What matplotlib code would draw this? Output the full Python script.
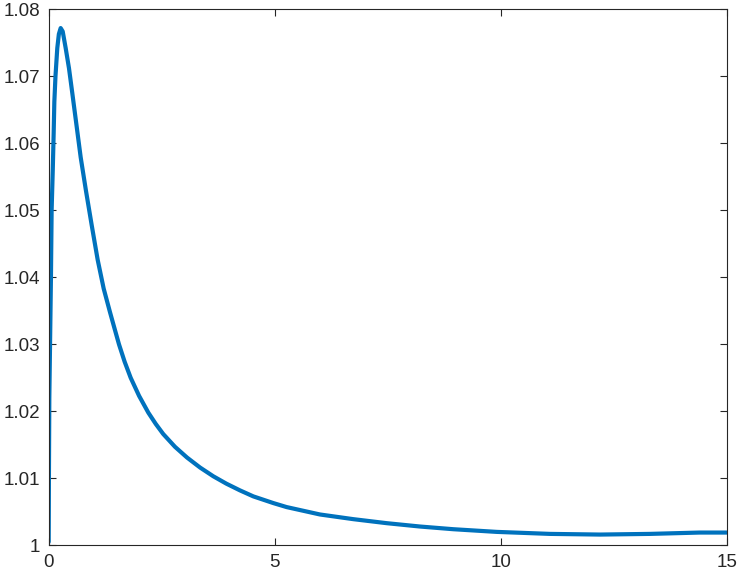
import matplotlib
matplotlib.use("Agg")
import matplotlib.pyplot as plt

plt.rcParams['font.family'] = ['Liberation Sans', 'DejaVu Sans']

x_vals = [0.0, 0.005, 0.014, 0.03, 0.05, 0.065, 0.09, 0.11, 0.125, 0.15, 0.19, 0.225, 0.265,
          0.31, 0.376, 0.449, 0.522, 0.619, 0.708, 0.825, 0.951, 1.084, 1.217, 1.356,
          1.455, 1.555, 1.68, 1.814, 2.0, 2.204, 2.37, 2.535, 2.794, 3.06, 3.35, 3.642,
          3.93, 4.23, 4.527, 4.97, 5.265, 6.0, 6.739, 7.478, 8.215,
          8.95, 9.91, 11.09, 12.2, 13.3, 14.4, 15.0]
y_vals = [1.0005, 1.010, 1.022, 1.030, 1.040, 1.050, 1.056, 1.0615, 1.0662, 1.0700, 1.0742, 1.0763, 1.0772,
          1.0767, 1.0742, 1.0712, 1.0675, 1.0625, 1.0579, 1.0529, 1.0478, 1.0426, 1.0383, 1.0348,
          1.0324, 1.0300, 1.0274, 1.0250, 1.0223, 1.0198, 1.0181, 1.0166, 1.0147, 1.0131, 1.0116, 1.0103,
          1.0092, 1.0082, 1.0073, 1.0063, 1.0057, 1.0046, 1.0039, 1.0033, 1.0028,
          1.0024, 1.0020, 1.0017, 1.0016, 1.0017, 1.0019, 1.0019]

x_ticks = [0, 5, 10, 15]
y_ticks = [1, 1.01, 1.02, 1.03, 1.04, 1.05, 1.06, 1.07, 1.08]
y_tick_labels = ['1', '1.01', '1.02', '1.03', '1.04', '1.05', '1.06', '1.07', '1.08']

fig = plt.figure(figsize=(7.4, 5.78), dpi=100)
ax = fig.add_axes([0.0658, 0.0566, 0.982 - 0.0658, 0.9839 - 0.0566])
ax.plot(x_vals, y_vals, color='#0072BD', linewidth=3.0,
        solid_capstyle='round', solid_joinstyle='round')
ax.set_xlim(0, 15)
ax.set_ylim(1.0, 1.08)
ax.set_xticks(x_ticks)
ax.set_xticklabels([str(t) for t in x_ticks])
ax.set_yticks(y_ticks)
ax.set_yticklabels(y_tick_labels)
ax.tick_params(direction='in', top=True, right=True, length=5, width=0.8,
               colors='#262626', labelsize=13.5, pad=6)
for s in ax.spines.values():
    s.set_color('#262626')
    s.set_linewidth(0.8)
fig.savefig('out.png', dpi=100)
